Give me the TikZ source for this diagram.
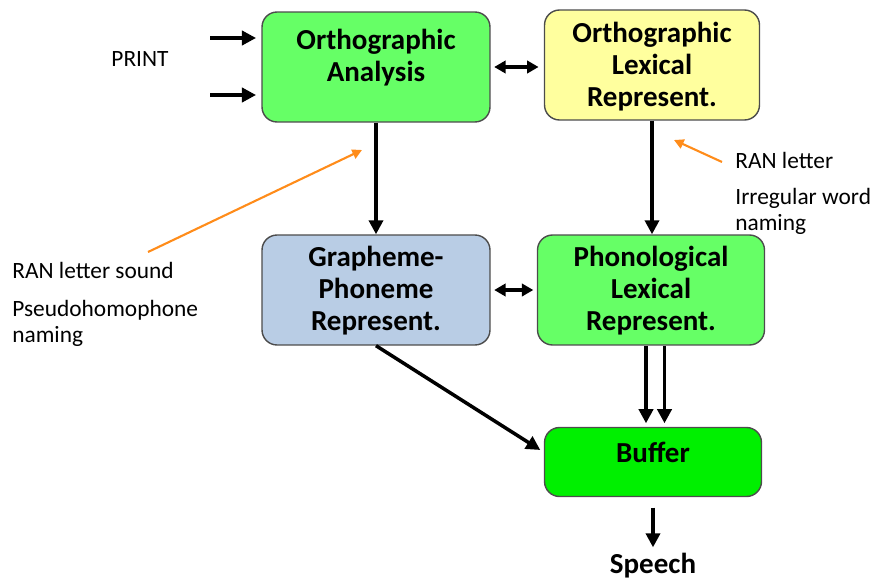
\documentclass[tikz,border=0pt]{standalone}
\usepackage{fontspec}
\setmainfont{Carlito}
\usetikzlibrary{arrows.meta}
\definecolor{boxgreen}{HTML}{66FF66}
\definecolor{boxyellow}{HTML}{FFFF9E}
\definecolor{boxblue}{HTML}{B9CDE5}
\definecolor{bufgreen}{HTML}{00F000}
\definecolor{noteorange}{HTML}{FF8C1A}
\begin{document}
\begin{tikzpicture}[x=0.02cm, y=-0.02cm,
    box/.style={draw=black!70, line width=0.8pt, rounded corners=0.3cm},
    boxtext/.style={align=center, font=\fontsize{16.5}{18.2}\selectfont\bfseries},
    note/.style={align=left, anchor=west, inner sep=0pt, font=\fontsize{13.3}{14.8}\selectfont},
    flow/.style={line width=2pt, -{Triangle[length=8pt,width=8pt]}},
    both/.style={line width=2pt, {Triangle[length=6.5pt,width=7pt]}-{Triangle[length=6.5pt,width=7pt]}},
    hint/.style={noteorange, line width=1.2pt, -{Triangle[length=5.5pt,width=5.5pt]}}]
    \useasboundingbox (0,0) rectangle (874,581);

        % Draw the boxes
    \node[box, fill=boxgreen, minimum width=4.56cm, minimum height=2.2cm] (oa) at (376,67) {};
    \node[boxtext] (oatext) at (376,58) {Orthographic\\Analysis};
    \node[box, fill=boxyellow, minimum width=4.3cm, minimum height=2.2cm] (olr) at (652,65) {};
    \node[boxtext] (olrtext) at (652,67) {Orthographic\\Lexical\\Represent.};
    \node[box, fill=boxblue, minimum width=4.56cm, minimum height=2.2cm] (gp) at (376,290) {};
    \node[boxtext] (gptext) at (376,291) {Grapheme-\\Phoneme\\Represent.};
    \node[box, fill=boxgreen, minimum width=4.54cm, minimum height=2.2cm] (pl) at (651,290) {};
    \node[boxtext] (pltext) at (651,291) {Phonological\\Lexical\\Represent.};
    \node[box, fill=bufgreen, minimum width=4.34cm, minimum height=1.38cm] (buf) at (653,462) {};
    \node[boxtext] (buftext) at (653,452) {Buffer};
    \node[boxtext] (speech) at (653,566) {Speech};

        % Draw the notes
    \node[font=\fontsize{13.3}{14.8}\selectfont] (print) at (140,59) {PRINT};
    \node[note] (ranletter) at (735,160) {RAN letter};
    \node[note] (irregular) at (735,211) {Irregular word\\naming};
    \node[note] (ransound) at (12,270) {RAN letter sound};
    \node[note] (pseudo) at (12,323) {Pseudohomophone\\naming};

        % Draw the arrows
    \coordinate (in1) at (210,38);
    \coordinate (in2) at (210,95);
    \draw[flow] (in1) -- ([xshift=-3pt]in1 -| oa.west);
    \draw[flow] (in2) -- ([xshift=-3pt]in2 -| oa.west);
    \draw[both, shorten <=2pt, shorten >=3pt] (oa.east) -- (oa.east -| olr.west);
    \draw[flow] (oa.south) -- (gp.north);
    \draw[flow] (olr.south) -- (olr.south |- pl.north);
    \draw[both, shorten <=2pt, shorten >=2pt] (gp.east) -- (pl.west);
    \draw[flow] (gp.south) -- ([yshift=0.24cm, xshift=-2pt]buf.west);
    \draw[flow] ([xshift=-0.1cm]pl.south) -- ([xshift=-0.1cm, yshift=2pt]pl.south |- buf.north);
    \draw[flow] ([xshift=0.27cm]pl.south) -- ([xshift=0.27cm, yshift=2pt]pl.south |- buf.north);
    \draw[flow, shorten <=6pt] (buf.south) -- (speech.north);

        % Show the hints
    \coordinate (h1) at (148,252);
    \coordinate (h1end) at (362,150);
    \coordinate (h2) at (722,162);
    \coordinate (h2end) at (674,140);
    \draw[hint] (h1) -- (h1end);
    \draw[hint] (h2) -- (h2end);
  \end{tikzpicture}
\end{document}
